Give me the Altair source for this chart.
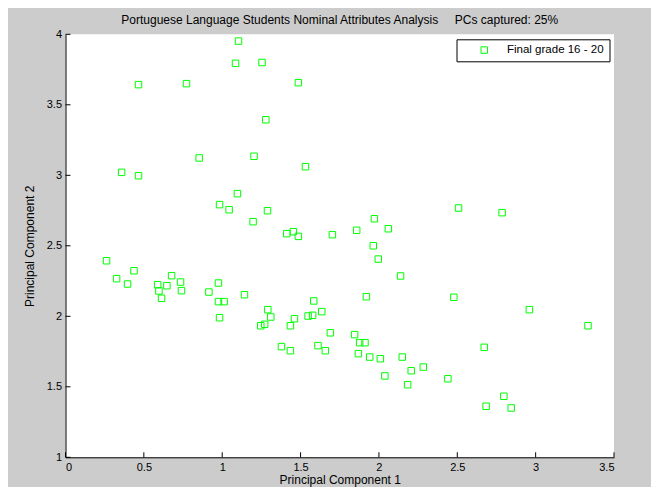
import altair as alt
import pandas as pd

pc1 = [1.104, 1.085, 1.254, 0.466, 0.772, 1.486, 1.278, 0.853, 1.203, 1.531,
       0.358, 0.466, 1.097, 0.983, 1.044, 1.289, 1.197, 1.412, 1.454, 1.486,
       1.703, 2.508, 2.786, 1.971, 1.858, 2.060, 1.964, 1.996, 2.138, 1.920,
       2.478, 2.960, 3.334, 1.690, 1.845, 1.877, 1.911, 1.869, 1.941, 2.009,
       2.149, 2.206, 2.283, 2.038, 2.183, 2.440, 2.672, 2.797, 2.684, 2.844,
       0.262, 0.326, 0.437, 0.396, 0.677, 0.588, 0.647, 0.734, 0.596, 0.740,
       0.613, 0.915, 0.976, 0.976, 1.012, 1.142, 0.983, 1.291, 1.310, 1.246,
       1.271, 1.461, 1.435, 1.584, 1.635, 1.548, 1.577, 1.378, 1.435, 1.611,
       1.658]
pc2 = [3.952, 3.794, 3.800, 3.643, 3.650, 3.657, 3.394, 3.123, 3.135, 3.061,
       3.021, 2.997, 2.870, 2.792, 2.756, 2.749, 2.671, 2.586, 2.600, 2.567,
       2.579, 2.768, 2.735, 2.692, 2.610, 2.621, 2.500, 2.406, 2.286, 2.139,
       2.135, 2.047, 1.933, 1.883, 1.870, 1.813, 1.813, 1.735, 1.711, 1.699,
       1.711, 1.614, 1.640, 1.577, 1.515, 1.557, 1.780, 1.433, 1.362, 1.350,
       2.394, 2.267, 2.323, 2.229, 2.288, 2.224, 2.217, 2.243, 2.180, 2.182,
       2.128, 2.172, 2.236, 2.104, 2.104, 2.153, 1.990, 2.047, 1.995, 1.933,
       1.943, 1.983, 1.933, 2.109, 2.033, 2.002, 2.007, 1.785, 1.756, 1.792,
       1.756]
series_name = "Final grade 16 - 20"
x_ticks = [0, 0.5, 1, 1.5, 2, 2.5, 3, 3.5]
y_ticks = [1, 1.5, 2, 2.5, 3, 3.5, 4]

df = pd.DataFrame({"pc1": pc1, "pc2": pc2, "series": [series_name] * len(pc1)})
xt = pd.DataFrame({"pc1": x_ticks})
yt = pd.DataFrame({"pc2": y_ticks})

W, H = 548.5, 423
FONT = "Liberation Sans"

xscale = alt.Scale(domain=[0, 3.5], nice=False, zero=False)
yscale = alt.Scale(domain=[1, 4], nice=False, zero=False)

xaxis = alt.Axis(values=x_ticks, format="~g", ticks=False, grid=False,
                 domainColor="black", labelColor="black", labelFont=FONT,
                 labelFontSize=11, labelPadding=4, titleFont=FONT, titleFontSize=12,
                 titleFontWeight="normal", titleColor="black", titlePadding=2)
yaxis = alt.Axis(values=y_ticks, format="~g", ticks=False, grid=False,
                 domainColor="black", labelColor="black", labelFont=FONT,
                 labelFontSize=11, labelPadding=4, titleFont=FONT, titleFontSize=12,
                 titleFontWeight="normal", titleColor="black", titlePadding=10)
XT = "Principal Component 1"
YT = "Principal Component 2"

points = alt.Chart(df).mark_point(shape="square", filled=False, size=42, strokeWidth=1, opacity=1).encode(
    x=alt.X("pc1:Q", scale=xscale, title=XT, axis=xaxis),
    y=alt.Y("pc2:Q", scale=yscale, title=YT, axis=yaxis),
    color=alt.Color("series:N", scale=alt.Scale(range=["#00FF00"]),
                    legend=alt.Legend(title=None, orient="top-right", offset=5,
                                      fillColor="white", strokeColor="black", padding=5,
                                      symbolOffset=17, labelOffset=17, symbolSize=42,
                                      symbolStrokeWidth=1, labelFont=FONT, labelFontSize=11.5,
                                      labelColor="black", symbolType="square")),
)

xticks = alt.Chart(xt).mark_rule(color="black", strokeWidth=1).encode(
    x=alt.X("pc1:Q", scale=xscale, title=XT, axis=xaxis),
    y=alt.value(H), y2=alt.value(H - 5),
)
yticks = alt.Chart(yt).mark_rule(color="black", strokeWidth=1).encode(
    y=alt.Y("pc2:Q", scale=yscale, title=YT, axis=yaxis),
    x=alt.value(0), x2=alt.value(5),
)

title_text = "Portuguese Language Students Nominal Attributes Analysis" + "\u00a0" * 5 + "PCs captured: 25%"

chart = alt.layer(points, xticks, yticks).properties(
    width=W, height=H,
    title=alt.TitleParams(title_text, font=FONT, fontSize=12, fontWeight="normal",
                          color="black", offset=1, anchor="middle"),
    background="#CCCCCC",
    padding={"left": 57.5, "top": 26.3, "right": 37, "bottom": 29.7},
    autosize=alt.AutoSizeParams(type="none"),
).configure_view(fill="white", stroke=None).configure_axis(domainWidth=1)

chart.save("out.html", embed_options={"renderer": "svg", "actions": False})
